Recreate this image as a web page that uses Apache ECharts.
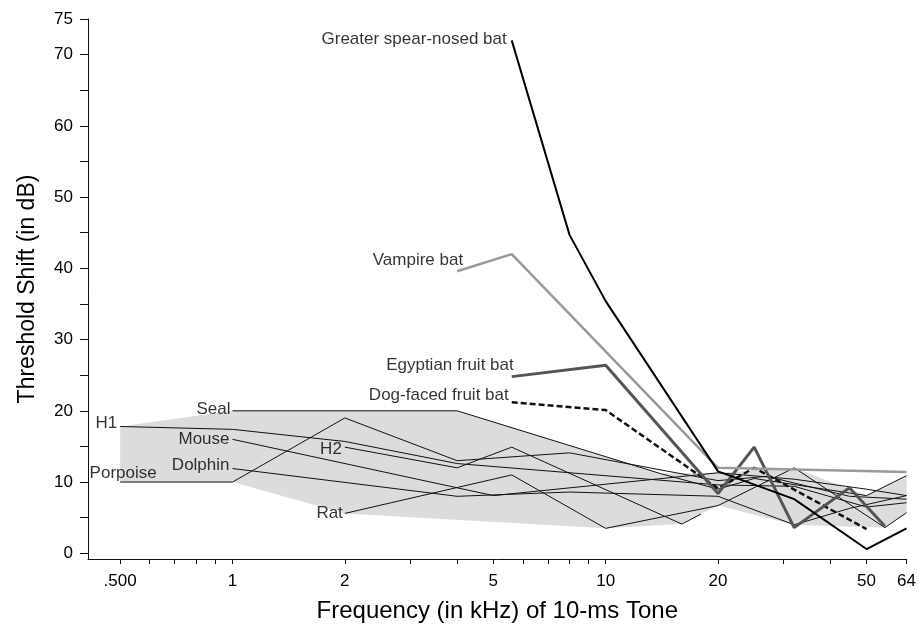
<!DOCTYPE html>
<html>
<head>
<meta charset="utf-8">
<title>Threshold shift after 10-ms tone</title>
<script src="https://cdn.jsdelivr.net/npm/echarts@6/dist/echarts.min.js"></script>
<style>
  html, body { margin: 0; padding: 0; background: #fff; }
  #chart { width: 919px; height: 630px; }
</style>
</head>
<body>
<div id="chart"></div>
<script>
// frequency in kHz, threshold shift in dB

// bats
const spearFreq = [5.6, 8, 10, 20, 32, 50, 64]
const spearVal = [72, 44.7, 35.4, 11.5, 7.6, 0.6, 3.5]
const vampireFreq = [4, 5.6, 20, 64]
const vampireVal = [39.6, 42.0, 12.0, 11.4]
const egyptFreq = [5.6, 10, 20, 25, 32, 45, 56]
const egyptVal = [24.8, 26.4, 8.4, 14.9, 3.6, 9.2, 3.8]
const dogFreq = [5.6, 10, 20, 25, 50]
const dogVal = [21.2, 20.1, 9.1, 12.0, 3.4]

// other mammals
const h1Freq = [0.5, 1, 2, 4, 20, 32, 50, 64]
const h1Val = [17.8, 17.4, 15.7, 12.6, 9.6, 9.4, 6.5, 7.1]
const sealFreq = [1, 4, 14, 20, 25, 50, 64]
const sealVal = [20, 20, 11.2, 9.0, 10.5, 8.1, 10.9]
const mouseFreq = [1, 5, 20, 32, 50, 64]
const mouseVal = [16.0, 8.1, 11.3, 10.4, 9.0, 8.1]
const h2Freq = [2, 4, 5.6, 16, 18]
const h2Val = [14.9, 12.0, 14.9, 4.1, 5.5]
const dolphinFreq = [1, 4, 8, 20, 32, 45, 64]
const dolphinVal = [11.9, 8.0, 8.6, 8.0, 4.0, 6.3, 8.1]
const porpoiseFreq = [0.5, 1, 2, 4, 8, 20, 27, 45, 64]
const porpoiseVal = [10, 10, 19.0, 13.0, 14.1, 10.2, 10.8, 8.0, 7.6]
const ratFreq = [2, 5.6, 10, 20, 32, 56, 64]
const ratVal = [5.6, 11.0, 3.5, 6.7, 12.0, 3.6, 5.7]

// shaded range of the non-bat mammals
const shadeTopFreq = [0.5, 1, 4, 14, 20, 32, 50, 64]
const shadeTopVal = [17.8, 20, 20, 11.2, 11.3, 12.0, 8.1, 10.9]
const shadeLowFreq = [0.5, 1, 2, 10, 16, 18, 20, 32, 56, 64]
const shadeLowVal = [10, 10, 5.6, 3.5, 4.1, 5.5, 6.7, 4.0, 3.6, 5.7]

// axes
const xTicks = [0.5, 0.6, 0.7, 0.8, 0.9, 1, 2, 3, 4, 5, 6, 7, 8, 9, 10, 20, 30, 40, 50, 64]
const xLabels = [0.5, 1, 2, 5, 10, 20, 50, 64]
const yTicks = [0, 5, 10, 15, 20, 25, 30, 35, 40, 45, 50, 55, 60, 65, 70, 75]
const yLabels = [0, 10, 20, 30, 40, 50, 60, 70, 75]

const font = '"Liberation Sans", Arial, Helvetica, sans-serif'
const ink = '#111'
const text = '#000'

function pairs(f, v) {
  return f.map((x, i) => [x, v[i]])
}

const chart = echarts.init(document.getElementById('chart'), null, { renderer: 'canvas' })

// one line per animal, label goes next to its first point
const lines = [
  { name: 'H1', f: h1Freq, v: h1Val, color: ink, width: 1, label: { position: 'left', distance: 3, offset: [0, -3] } },
  { name: 'Seal', f: sealFreq, v: sealVal, color: ink, width: 1, label: { position: 'left', distance: 2, offset: [0, -2] } },
  { name: 'Mouse', f: mouseFreq, v: mouseVal, color: ink, width: 1, label: { position: 'left', distance: 3, offset: [0, 0] } },
  { name: 'H2', f: h2Freq, v: h2Val, color: ink, width: 1, label: { position: 'left', distance: 3, offset: [0, 2] } },
  { name: 'Dolphin', f: dolphinFreq, v: dolphinVal, color: ink, width: 1, label: { position: 'left', distance: 3, offset: [0, -3] } },
  { name: 'Porpoise', f: porpoiseFreq, v: porpoiseVal, color: ink, width: 1, label: { position: 'top', distance: 0, offset: [3, 0] } },
  { name: 'Rat', f: ratFreq, v: ratVal, color: ink, width: 1, label: { position: 'left', distance: 2, offset: [0, 0] } },
  { name: 'Dog-faced fruit bat', f: dogFreq, v: dogVal, color: '#111', width: 2.5, type: [6, 3], label: { position: 'left', distance: 3, offset: [0, -7] } },
  { name: 'Egyptian fruit bat', f: egyptFreq, v: egyptVal, color: '#555', width: 3, label: { position: 'left', distance: 0, offset: [2, -11] } },
  { name: 'Vampire bat', f: vampireFreq, v: vampireVal, color: '#9a9a9a', width: 2.5, label: { position: 'left', distance: 0, offset: [6, -11] } },
  { name: 'Greater spear-nosed bat', f: spearFreq, v: spearVal, color: '#000', width: 2, label: { position: 'left', distance: 5, offset: [0, -1] } }
]

const series = []

series.push({
  type: 'custom',
  name: 'range',
  silent: true,
  z: 1,
  data: [[1, 10]],
  renderItem: function (params, api) {
    const top = pairs(shadeTopFreq, shadeTopVal).map(p => api.coord(p))
    const low = pairs(shadeLowFreq, shadeLowVal).map(p => api.coord(p)).reverse()
    return {
      type: 'polygon',
      shape: { points: top.concat(low) },
      style: { fill: '#dcdcdc', stroke: null }
    }
  }
})

lines.forEach((l, i) => {
  series.push({
    type: 'line',
    name: l.name,
    data: pairs(l.f, l.v),
    symbol: 'none',
    z: 3 + i,
    lineStyle: { color: l.color, width: l.width, type: l.type || 'solid' }
  })
})

series.push({
  type: 'scatter',
  name: 'labels',
  symbolSize: 0,
  silent: true,
  z: 20,
  data: lines.map(l => ({
    name: l.name,
    value: [l.f[0], l.v[0]],
    label: Object.assign({ show: true, formatter: '{b}', color: text }, l.label)
  })),
  label: { color: text, fontSize: 17, fontFamily: font }
})

const option = {
  animation: false,
  backgroundColor: '#fff',
  grid: { left: 88, right: 9, top: 19, bottom: 71 },
  xAxis: {
    type: 'log',
    logBase: 10,
    min: 0.41,
    max: 64,
    name: 'Frequency (in kHz) of 10-ms Tone',
    nameLocation: 'middle',
    nameGap: 40,
    nameTextStyle: { fontSize: 24, color: text, fontFamily: font },
    axisLine: { show: true, onZero: false, lineStyle: { color: ink, width: 1 } },
    axisTick: { show: true, length: 5, customValues: xTicks, lineStyle: { color: ink } },
    axisLabel: {
      customValues: xLabels,
      fontSize: 17,
      color: text,
      fontFamily: font,
      margin: 14,
      formatter: v => (v === 0.5 ? '.500' : String(v))
    },
    splitLine: { show: false },
    minorTick: { show: false }
  },
  yAxis: {
    type: 'value',
    min: -0.8,
    max: 75,
    name: 'Threshold Shift (in dB)',
    nameLocation: 'middle',
    nameGap: 49,
    nameTextStyle: { fontSize: 23, color: text, fontFamily: font },
    axisLine: { show: true, onZero: false, lineStyle: { color: ink, width: 1 } },
    axisTick: { show: true, length: 8, customValues: yTicks, lineStyle: { color: ink } },
    axisLabel: { customValues: yLabels, fontSize: 17, color: text, fontFamily: font, margin: 15 },
    splitLine: { show: false }
  },
  series: series
}

chart.setOption(option)
</script>
</body>
</html>
